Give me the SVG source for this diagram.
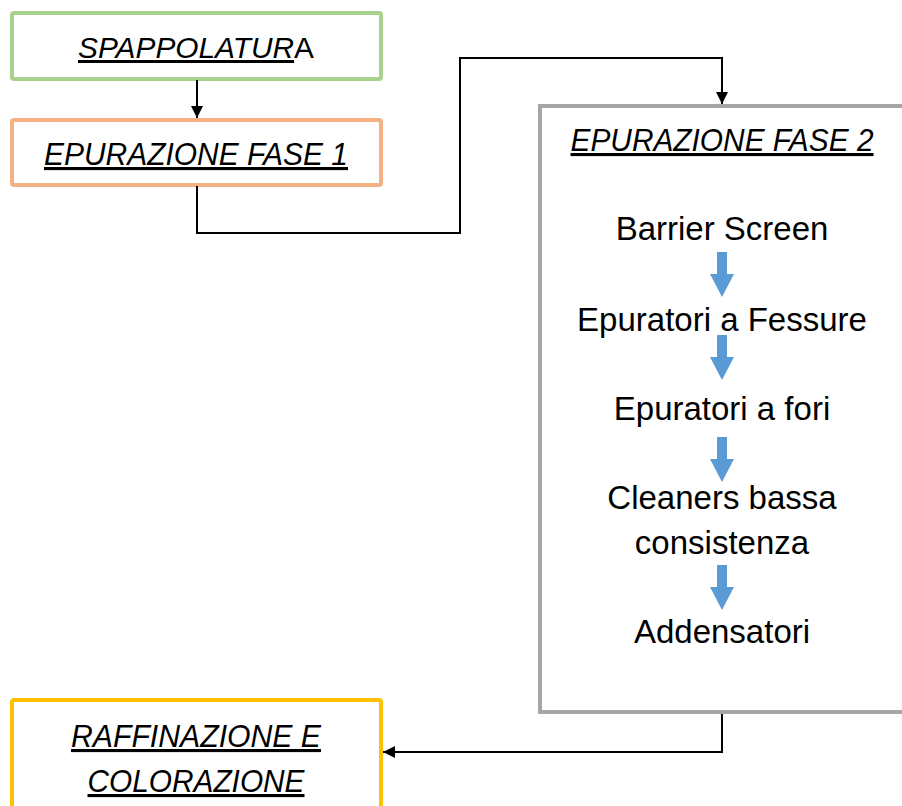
<svg xmlns="http://www.w3.org/2000/svg" width="902" height="806" viewBox="0 0 902 806">
<style>
.box{fill:#fff;stroke-width:4}
.title{font-family:"Liberation Sans",Arial,sans-serif;font-style:italic;font-size:31px;fill:#000;text-anchor:middle}
.u{text-decoration:underline}
.body{font-family:"Liberation Sans",Arial,sans-serif;font-size:33px;fill:#000;text-anchor:middle}
.conn{fill:none;stroke:#000;stroke-width:2}
.blue{fill:#5B9BD5}
</style>
<defs>
<marker id="ah" viewBox="0 0 10 10" refX="10" refY="5" markerWidth="6" markerHeight="6" markerUnits="strokeWidth" orient="auto">
<path d="M0,0 L10,5 L0,10 Z" fill="#000"/>
</marker>
</defs>
<rect width="902" height="806" fill="#fff"/>
<g id="spappolatura">
<rect class="box" x="12" y="13" width="369" height="66" rx="2" stroke="#A9D18E"/>
<text class="title" x="196" y="58" style="font-size:30px" textLength="236" lengthAdjust="spacingAndGlyphs"><tspan class="u">SPAPPOLATUR</tspan><tspan font-style="normal">A</tspan></text>
</g>
<g id="epurazione1">
<rect class="box" x="12" y="120" width="369" height="65" rx="2" stroke="#F4B183"/>
<text class="title u" x="196" y="165" textLength="304" lengthAdjust="spacingAndGlyphs">EPURAZIONE FASE 1</text>
</g>
<g id="epurazione2">
<rect class="box" x="540" y="106" width="380" height="606" stroke="#A6A6A6"/>
<text class="title u" x="722" y="151" textLength="303" lengthAdjust="spacingAndGlyphs">EPURAZIONE FASE 2</text>
<text class="body" x="722" y="240">Barrier Screen</text>
<text class="body" x="722" y="331">Epuratori a Fessure</text>
<text class="body" x="722" y="420">Epuratori a fori</text>
<text class="body" x="722" y="509">Cleaners bassa</text>
<text class="body" x="722" y="554">consistenza</text>
<text class="body" x="722" y="643">Addensatori</text>
<path class="blue" d="M717,252 H727 V274 H734 L722,297 L710,274 H717 Z"/>
<path class="blue" d="M717,335 H727 V357 H734 L722,380 L710,357 H717 Z"/>
<path class="blue" d="M717,437 H727 V459 H734 L722,482 L710,459 H717 Z"/>
<path class="blue" d="M717,565 H727 V587 H734 L722,610 L710,587 H717 Z"/>
</g>
<g id="raffinazione">
<rect class="box" x="12" y="700" width="369" height="130" rx="2" stroke="#FFC000"/>
<text class="title u" x="196" y="747" textLength="250" lengthAdjust="spacingAndGlyphs">RAFFINAZIONE E</text>
<text class="title u" x="196" y="792" textLength="217" lengthAdjust="spacingAndGlyphs">COLORAZIONE</text>
</g>
<g id="connectors">
<path class="conn" d="M197,80 V118" marker-end="url(#ah)"/>
<path class="conn" d="M197,186 V233 H460 V58 H722 V104" marker-end="url(#ah)"/>
<path class="conn" d="M722,714 V752 H383" marker-end="url(#ah)"/>
</g>
</svg>
